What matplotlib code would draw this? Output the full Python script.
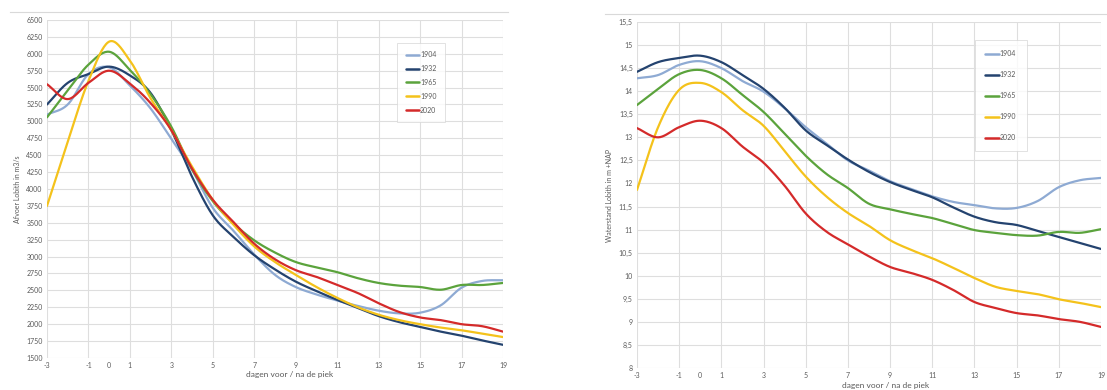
import numpy as np
import matplotlib
matplotlib.use("Agg")
import matplotlib.pyplot as plt
from matplotlib.lines import Line2D

plt.rcParams['font.family'] = ['Lato', 'DejaVu Sans']

# Days before / after the flood peak
days = [-3, -2, -1, 0, 1, 2, 3, 4, 5, 6, 7, 8, 9, 10, 11, 12, 13, 14, 15, 16, 17, 18, 19]
years = ["1904", "1932", "1965", "1990", "2020"]
colors = ["#8eaad3", "#24436f", "#5ba33c", "#f4c21b", "#d42a2a"]

# Discharge at Lobith (m3/s)
afvoer_1904 = [5100, 5250, 5700, 5800, 5530, 5190, 4740, 4280, 3720, 3380, 3030, 2730,
               2550, 2440, 2350, 2270, 2200, 2160, 2170, 2280, 2540, 2640, 2650]
afvoer_1932 = [5250, 5570, 5700, 5810, 5680, 5420, 4870, 4180, 3610, 3290, 3020, 2810,
               2630, 2490, 2360, 2240, 2120, 2030, 1960, 1890, 1830, 1760, 1695]
afvoer_1965 = [5060, 5460, 5840, 6030, 5760, 5400, 4920, 4290, 3820, 3490, 3240, 3060,
               2920, 2840, 2770, 2680, 2610, 2570, 2550, 2510, 2580, 2580, 2610]
afvoer_1990 = [3750, 4700, 5600, 6180, 5900, 5340, 4870, 4330, 3840, 3470, 3150, 2920,
               2730, 2550, 2390, 2250, 2140, 2060, 2000, 1950, 1910, 1860, 1810]
afvoer_2020 = [5550, 5330, 5570, 5750, 5560, 5270, 4870, 4300, 3840, 3510, 3190, 2960,
               2800, 2700, 2580, 2460, 2310, 2180, 2100, 2060, 2000, 1970, 1890]

# Water level at Lobith (m +NAP)
stand_1904 = [14.28, 14.35, 14.57, 14.65, 14.50, 14.22, 13.99, 13.63, 13.22, 12.86, 12.50, 12.28,
              12.05, 11.88, 11.72, 11.60, 11.53, 11.46, 11.47, 11.62, 11.92, 12.07, 12.12]
stand_1932 = [14.42, 14.63, 14.72, 14.77, 14.63, 14.35, 14.05, 13.64, 13.15, 12.83, 12.52, 12.25,
              12.03, 11.86, 11.70, 11.48, 11.28, 11.16, 11.10, 10.97, 10.84, 10.71, 10.58]
stand_1965 = [13.70, 14.05, 14.37, 14.46, 14.28, 13.92, 13.55, 13.08, 12.60, 12.20, 11.90, 11.56,
              11.44, 11.34, 11.25, 11.12, 10.99, 10.93, 10.88, 10.87, 10.95, 10.93, 11.01]
stand_1990 = [11.86, 13.22, 14.03, 14.18, 13.98, 13.59, 13.25, 12.70, 12.15, 11.71, 11.36, 11.08,
              10.77, 10.56, 10.38, 10.17, 9.95, 9.76, 9.67, 9.60, 9.49, 9.41, 9.32]
stand_2020 = [13.20, 13.00, 13.22, 13.36, 13.20, 12.80, 12.45, 11.95, 11.35, 10.95, 10.68, 10.42,
              10.19, 10.06, 9.91, 9.69, 9.43, 9.30, 9.19, 9.14, 9.06, 9.00, 8.89]

x_ticks = [-3, -1, 1, 3, 5, 7, 9, 11, 13, 15, 17, 19]
x_ticklabels = ["-3", "-1", "1", "3", "5", "7", "9", "11", "13", "15", "17", "19"]
afvoer_ticks = list(range(1500, 6501, 250))
stand_ticks = [8, 8.5, 9, 9.5, 10, 10.5, 11, 11.5, 12, 12.5, 13, 13.5, 14, 14.5, 15, 15.5]
stand_ticklabels = [("%g" % v).replace(".", ",") for v in stand_ticks]

xlabel = "dagen voor / na de piek"
afvoer_label = "Afvoer Lobith in m3/s"
stand_label = "Waterstand Lobith in m +NAP"

TXT = "#5a5a5a"
GRID = "#dedede"


def smooth(x, y, n=20):
    """Catmull-Rom curve through the data points (smoothed line look)."""
    x = np.asarray(x, float)
    y = np.asarray(y, float)
    px = np.concatenate([[2 * x[0] - x[1]], x, [2 * x[-1] - x[-2]]])
    py = np.concatenate([[2 * y[0] - y[1]], y, [2 * y[-1] - y[-2]]])
    xs, ys = [], []
    t = np.linspace(0, 1, n, endpoint=False)
    for i in range(1, len(px) - 2):
        for p, out in ((px, xs), (py, ys)):
            p0, p1, p2, p3 = p[i - 1], p[i], p[i + 1], p[i + 2]
            out.append(0.5 * ((2 * p1) + (-p0 + p2) * t
                              + (2 * p0 - 5 * p1 + 4 * p2 - p3) * t ** 2
                              + (-p0 + 3 * p1 - 3 * p2 + p3) * t ** 3))
    xs.append([x[-1]])
    ys.append([y[-1]])
    return np.concatenate(xs), np.concatenate(ys)


def style_axes(ax, yticks, yticklabels, ylim):
    ax.set_xlim(-3, 19)
    ax.set_ylim(*ylim)
    ax.set_xticks(x_ticks, labels=x_ticklabels)
    ax.set_xticks([0], labels=["0"], minor=True)
    ax.set_yticks(yticks, labels=yticklabels)
    ax.grid(True, which="major", color=GRID, linewidth=0.8)
    ax.set_axisbelow(True)
    for s in ax.spines.values():
        s.set_visible(False)
    ax.tick_params(which="both", length=0, labelsize=5, colors=TXT, pad=3)


def style_legend(leg):
    leg.get_frame().set_edgecolor("#d4d4d4")
    leg.get_frame().set_linewidth(0.6)
    for t in leg.get_texts():
        t.set_color(TXT)
    for h in leg.get_lines():
        h.set_linewidth(1.8)


fig = plt.figure(figsize=(11.07, 3.90), dpi=100)

# Left panel: discharge
ax1 = fig.add_axes([47 / 1107, 32 / 390, 456 / 1107, 338 / 390])
style_axes(ax1, afvoer_ticks, [str(v) for v in afvoer_ticks], (1500, 6500))
for yr, c, ser in zip(years, colors, [afvoer_1904, afvoer_1932, afvoer_1965, afvoer_1990, afvoer_2020]):
    sx, sy = smooth(days, ser)
    ax1.plot(sx, sy, color=c, lw=1.6, label=yr, solid_capstyle="round")
ax1.set_ylabel(afvoer_label, fontsize=5, color=TXT, labelpad=4)
ax1.text(0.533, -0.05, xlabel, transform=ax1.transAxes, ha="center", va="center",
         fontsize=6, color=TXT)
leg1 = ax1.legend(loc="upper left", bbox_to_anchor=(0.768, 0.932), fontsize=5,
                  handlelength=2.0, handletextpad=0.1, labelspacing=0.98, borderpad=1.2,
                  frameon=True, fancybox=False, borderaxespad=0)
style_legend(leg1)

# Right panel: water level
ax2 = fig.add_axes([637 / 1107, 22 / 390, 464 / 1107, 346 / 390])
style_axes(ax2, stand_ticks, stand_ticklabels, (8, 15.5))
for yr, c, ser in zip(years, colors, [stand_1904, stand_1932, stand_1965, stand_1990, stand_2020]):
    sx, sy = smooth(days, ser)
    ax2.plot(sx, sy, color=c, lw=1.6, label=yr, solid_capstyle="round")
ax2.set_ylabel(stand_label, fontsize=5, color=TXT, labelpad=4)
ax2.text(0.535, -0.05, xlabel, transform=ax2.transAxes, ha="center", va="center",
         fontsize=6, color=TXT)
leg2 = ax2.legend(loc="upper left", bbox_to_anchor=(0.728, 0.948), fontsize=5,
                  handlelength=2.0, handletextpad=0.1, labelspacing=2.0, borderpad=1.5,
                  frameon=True, fancybox=False, borderaxespad=0)
style_legend(leg2)

# Thin rules above each chart
fig.add_artist(Line2D([10 / 1107, 508 / 1107], [1 - 12 / 390] * 2, color="#d9d9d9", lw=0.8,
                      transform=fig.transFigure))
fig.add_artist(Line2D([605 / 1107, 1.0], [1 - 14 / 390] * 2, color="#d9d9d9", lw=0.8,
                      transform=fig.transFigure))

fig.savefig("out.png", dpi=100, facecolor="white")
